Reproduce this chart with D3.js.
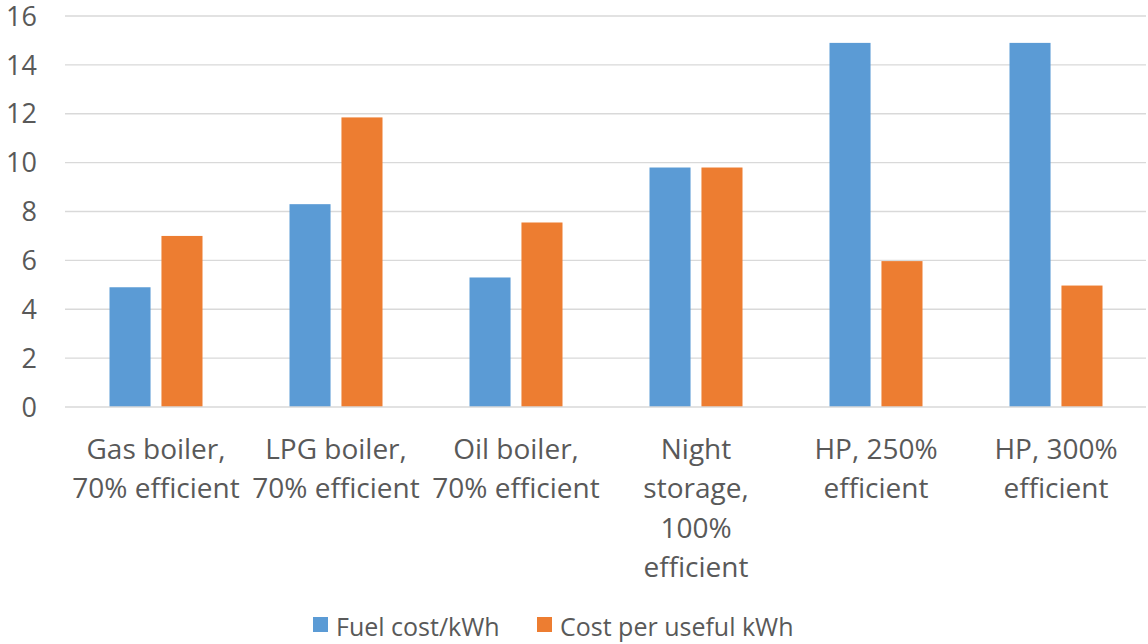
<!DOCTYPE html>
<html>
<head>
<meta charset="utf-8">
<script src="https://cdn.jsdelivr.net/npm/d3@7"></script>
<style>
  body { margin: 0; background: #fff; }
  text { font-family: "Open Sans", sans-serif; fill: #595959; }
</style>
</head>
<body>
<div id="chart"></div>
<script>
const categories = [
  ['Gas boiler,', '70% efficient'],
  ['LPG boiler,', '70% efficient'],
  ['Oil boiler,', '70% efficient'],
  ['Night', 'storage,', '100%', 'efficient'],
  ['HP, 250%', 'efficient'],
  ['HP, 300%', 'efficient']
]
const seriesNames = ['Fuel cost/kWh', 'Cost per useful kWh']
const fuelCost = [4.9, 8.3, 5.3, 9.8, 14.9, 14.9]
const usefulCost = [7.0, 11.85, 7.55, 9.8, 5.97, 4.97]
const yTicks = [0, 2, 4, 6, 8, 10, 12, 14, 16]
const colors = ['#5b9bd5', '#ed7d31']

const W = 1148, H = 644
const margin = { left: 66, right: 2, top: 16, bottom: 237 }

const svg = d3.select('#chart').append('svg').attr('width', W).attr('height', H)

const keys = categories.map((c, i) => i)
const x0 = d3.scaleBand().domain(keys).range([margin.left, W - margin.right])
const mid = x0.bandwidth() / 2
const x1 = d3.scaleBand().domain(seriesNames).range([mid - 46.5, mid + 46.5]).paddingInner(0.21)
const y = d3.scaleLinear().domain([0, 16]).range([H - margin.bottom, margin.top])

// gridlines
svg.append('g')
  .selectAll('line')
  .data(yTicks.slice(1))
  .join('line')
  .attr('x1', margin.left - 1).attr('x2', W - margin.right)
  .attr('y1', d => y(d)).attr('y2', d => y(d))
  .attr('stroke', '#d9d9d9').attr('stroke-width', 1.3)

// y labels
svg.append('g')
  .selectAll('text')
  .data(yTicks)
  .join('text')
  .attr('x', 37).attr('y', d => y(d))
  .attr('dy', '0.36em')
  .attr('text-anchor', 'end')
  .attr('font-size', 27)
  .text(d => d)

// bars
const rows = keys.map(i => ({ i, vals: [fuelCost[i], usefulCost[i]] }))
svg.append('g')
  .selectAll('g')
  .data(rows)
  .join('g')
  .attr('transform', d => `translate(${x0(d.i)},0)`)
  .selectAll('rect')
  .data(d => d.vals.map((v, k) => ({ name: seriesNames[k], v, k })))
  .join('rect')
  .attr('x', d => x1(d.name))
  .attr('width', x1.bandwidth())
  .attr('y', d => y(d.v))
  .attr('height', d => y(0) - y(d.v))
  .attr('fill', d => colors[d.k])

// x axis line
svg.append('line')
  .attr('x1', margin.left - 1).attr('x2', W - margin.right)
  .attr('y1', y(0)).attr('y2', y(0))
  .attr('stroke', '#d9d9d9').attr('stroke-width', 1.3)

// category labels
svg.append('g')
  .selectAll('text')
  .data(rows)
  .join('text')
  .attr('x', d => x0(d.i) + mid)
  .attr('text-anchor', 'middle')
  .attr('font-size', 28)
  .selectAll('tspan')
  .data(d => categories[d.i].map((t, j) => ({ t, j, cx: x0(d.i) + mid })))
  .join('tspan')
  .attr('x', d => d.cx)
  .attr('y', d => 459 + d.j * 39.3)
  .text(d => d.t)

// legend
const legend = svg.append('g')
const legendPos = [313, 537]
seriesNames.forEach((name, k) => {
  legend.append('rect')
    .attr('x', legendPos[k]).attr('y', 617)
    .attr('width', 15).attr('height', 15)
    .attr('fill', colors[k])
  legend.append('text')
    .attr('x', legendPos[k] + 23).attr('y', 636)
    .attr('font-size', 25)
    .text(name)
})
</script>
</body>
</html>
